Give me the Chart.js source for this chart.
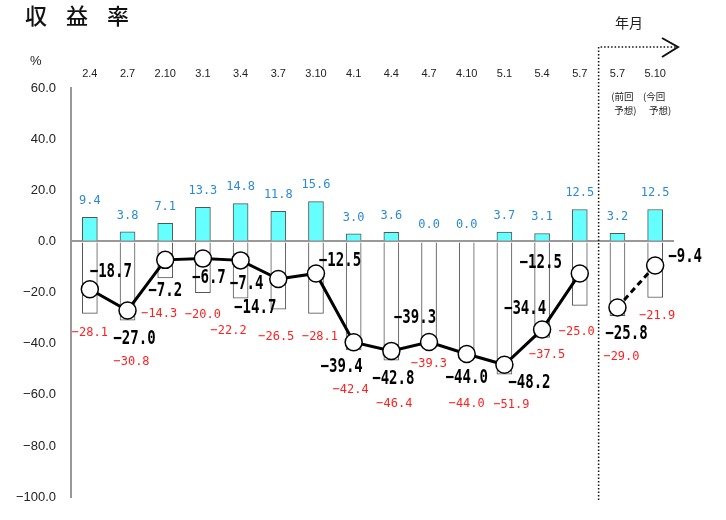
<!DOCTYPE html>
<html>
<head>
<meta charset="utf-8">
<script src="https://cdn.jsdelivr.net/npm/chart.js@4"></script>
<style>
  html, body { margin: 0; padding: 0; background: #fff; }
  #wrap { width: 726px; height: 520px; }
</style>
</head>
<body>
<div id="wrap"><canvas id="chart" width="726" height="520"></canvas></div>
<script>
// 年月 categories (last two are forecasts)
const categories = ["2.4", "2.7", "2.10", "3.1", "3.4", "3.7", "3.10", "4.1", "4.4", "4.7", "4.10", "5.1", "5.4", "5.7", "5.7", "5.10"];
const forecastNotes = ["(前回", "予想)", "(今回", "予想)"];

// cyan bars (positive side)
const upRate = [9.4, 3.8, 7.1, 13.3, 14.8, 11.8, 15.6, 3.0, 3.6, 0.0, 0.0, 3.7, 3.1, 12.5, 3.2, 12.5];
// white bars (negative side)
const downRate = [-28.1, -30.8, -14.3, -20.0, -22.2, -26.5, -28.1, -42.4, -46.4, -39.3, -44.0, -51.9, -37.5, -25.0, -29.0, -21.9];
// line: actual results, then forecast
const netActual = [-18.7, -27.0, -7.2, -6.7, -7.4, -14.7, -12.5, -39.4, -42.8, -39.3, -44.0, -48.2, -34.4, -12.5, null, null];
const netForecast = [null, null, null, null, null, null, null, null, null, null, null, null, null, null, -25.8, -9.4];

const yTicks = [60, 40, 20, 0, -20, -40, -60, -80, -100];

// label offsets (px) — placement only
const netOffsets = [[21,-17],[7,29],[0,31],[6,19],[6,24],[-23,29],[24,-12],[-12,25],[2,28],[-14,-24],[0,24],[25,18],[-17,-20],[-39,-10],[9,27],[30,-8]];
const downOffsets = [[0,19],[4,41],[-6,36],[0,22],[-12,32],[-2,27],[4,23],[-3,40],[3,44],[0,22],[0,50],[7,30],[5,17],[-3,26],[4,41],[2,18]];

const fmt = (v) => (v < 0 ? "\u2212" : "") + Math.abs(v).toFixed(1);

function squishText(ctx, text, x, y, sx) {
  ctx.save();
  ctx.translate(x, y);
  ctx.scale(sx, 1);
  ctx.fillText(text, 0, 0);
  ctx.restore();
}

const labelPlugin = {
  id: "labels",
  afterDatasetsDraw(chart) {
    const ctx = chart.ctx;
    const xs = chart.scales.x;
    const ys = chart.scales.y;
    ctx.save();
    ctx.textAlign = "center";
    ctx.textBaseline = "middle";

    // blue labels over cyan bars
    ctx.fillStyle = "#2a8ad6";
    ctx.font = '13px "DejaVu Sans Mono"';
    upRate.forEach((v, i) => {
      squishText(ctx, fmt(v), xs.getPixelForValue(i), ys.getPixelForValue(v) - 16.5, 0.92);
    });

    // red labels under white bars
    ctx.fillStyle = "#ff1f1f";
    downRate.forEach((v, i) => {
      const o = downOffsets[i];
      squishText(ctx, fmt(v), xs.getPixelForValue(i) + o[0], ys.getPixelForValue(v) + o[1], 0.92);
    });

    // black bold labels for the line
    ctx.fillStyle = "#000";
    ctx.font = 'bold 19px "DejaVu Sans Mono"';
    categories.forEach((c, i) => {
      const v = netActual[i] !== null ? netActual[i] : netForecast[i];
      const o = netOffsets[i];
      squishText(ctx, fmt(v), xs.getPixelForValue(i) + o[0], ys.getPixelForValue(v) + o[1], 0.74);
    });
    ctx.restore();
  },
  afterDraw(chart) {
    const ctx = chart.ctx;
    const xs = chart.scales.x;
    ctx.save();

    // title
    ctx.fillStyle = "#111";
    ctx.font = '500 22px "Noto Sans CJK JP"';
    ctx.textBaseline = "middle";
    ctx.textAlign = "left";
    ["収", "益", "率"].forEach((ch, i) => ctx.fillText(ch, 25 + i * 41, 16));

    ctx.font = '13px "Liberation Sans"';
    ctx.fillStyle = "#222";
    ctx.fillText("%", 30, 61);

    // category labels on top
    ctx.textAlign = "center";
    ctx.font = '11px "Liberation Sans"';
    categories.forEach((c, i) => ctx.fillText(c, xs.getPixelForValue(i), 74));

    // forecast notes
    ctx.font = '9.5px "Noto Sans CJK JP"';
    const x14 = xs.getPixelForValue(14), x15 = xs.getPixelForValue(15);
    ctx.fillText(forecastNotes[0], x14 + 5, 96);
    ctx.fillText(forecastNotes[1], x14 + 8, 110);
    ctx.fillText(forecastNotes[2], x15 - 1, 96);
    ctx.fillText(forecastNotes[3], x15 + 5, 110);

    ctx.font = '14px "Noto Sans CJK JP"';
    ctx.fillText("年月", 629, 23);

    // dotted frame for forecast
    const sepX = (xs.getPixelForValue(13) + x14) / 2;
    ctx.strokeStyle = "#111";
    ctx.lineWidth = 1.5;
    ctx.setLineDash([1.5, 2]);
    ctx.beginPath();
    ctx.moveTo(sepX, 500);
    ctx.lineTo(sepX, 47);
    ctx.lineTo(676, 47);
    ctx.stroke();
    ctx.setLineDash([]);
    ctx.lineWidth = 2;
    ctx.beginPath();
    ctx.moveTo(662, 38);
    ctx.lineTo(678, 47);
    ctx.lineTo(662, 57);
    ctx.stroke();
    ctx.restore();
  }
};

new Chart(document.getElementById("chart"), {
  type: "bar",
  data: {
    labels: categories,
    datasets: [
      {
        label: "net",
        type: "line",
        data: netActual,
        borderColor: "#000",
        borderWidth: 3,
        pointRadius: 8.5,
        pointBackgroundColor: "#fff",
        pointBorderColor: "#000",
        pointBorderWidth: 1.5,
        spanGaps: false,
        clip: false,
        order: 0,
      },
      {
        label: "forecast",
        type: "line",
        data: netForecast,
        borderColor: "#000",
        borderWidth: 3,
        borderDash: [6, 4],
        pointRadius: 8.5,
        pointBackgroundColor: "#fff",
        pointBorderColor: "#000",
        pointBorderWidth: 1.5,
        clip: false,
        order: 0,
      },
      {
        label: "up",
        data: upRate,
        backgroundColor: "#66ffff",
        borderColor: "#555",
        borderWidth: 1,
        barThickness: 15,
        grouped: false,
        order: 2,
      },
      {
        label: "down",
        data: downRate,
        backgroundColor: "#fff",
        borderColor: "#555",
        borderWidth: 1,
        barThickness: 15,
        grouped: false,
        order: 2,
      },
    ],
  },
  options: {
    responsive: false,
    devicePixelRatio: 1,
    animation: false,
    layout: { padding: { top: 88, right: 52, bottom: 20, left: 0 } },
    plugins: {
      legend: { display: false },
      tooltip: { enabled: false },
      title: { display: false },
    },
    scales: {
      x: { display: false, offset: true },
      y: {
        min: -100,
        max: 60,
        afterFit: (s) => { s.width = 71; },
        afterBuildTicks: (s) => { s.ticks = yTicks.map((v) => ({ value: v })); },
        border: { display: true, color: "#999", width: 2 },
        grid: {
          drawTicks: false,
          lineWidth: 2,
          color: (c) => (c.tick && c.tick.value === 0 ? "#999" : "rgba(0,0,0,0)"),
        },
        ticks: {
          padding: 15,
          color: "#222",
          font: { family: "Liberation Sans", size: 13 },
          callback: (v) => fmt(v),
        },
      },
    },
  },
  plugins: [labelPlugin],
});
</script>
</body>
</html>
